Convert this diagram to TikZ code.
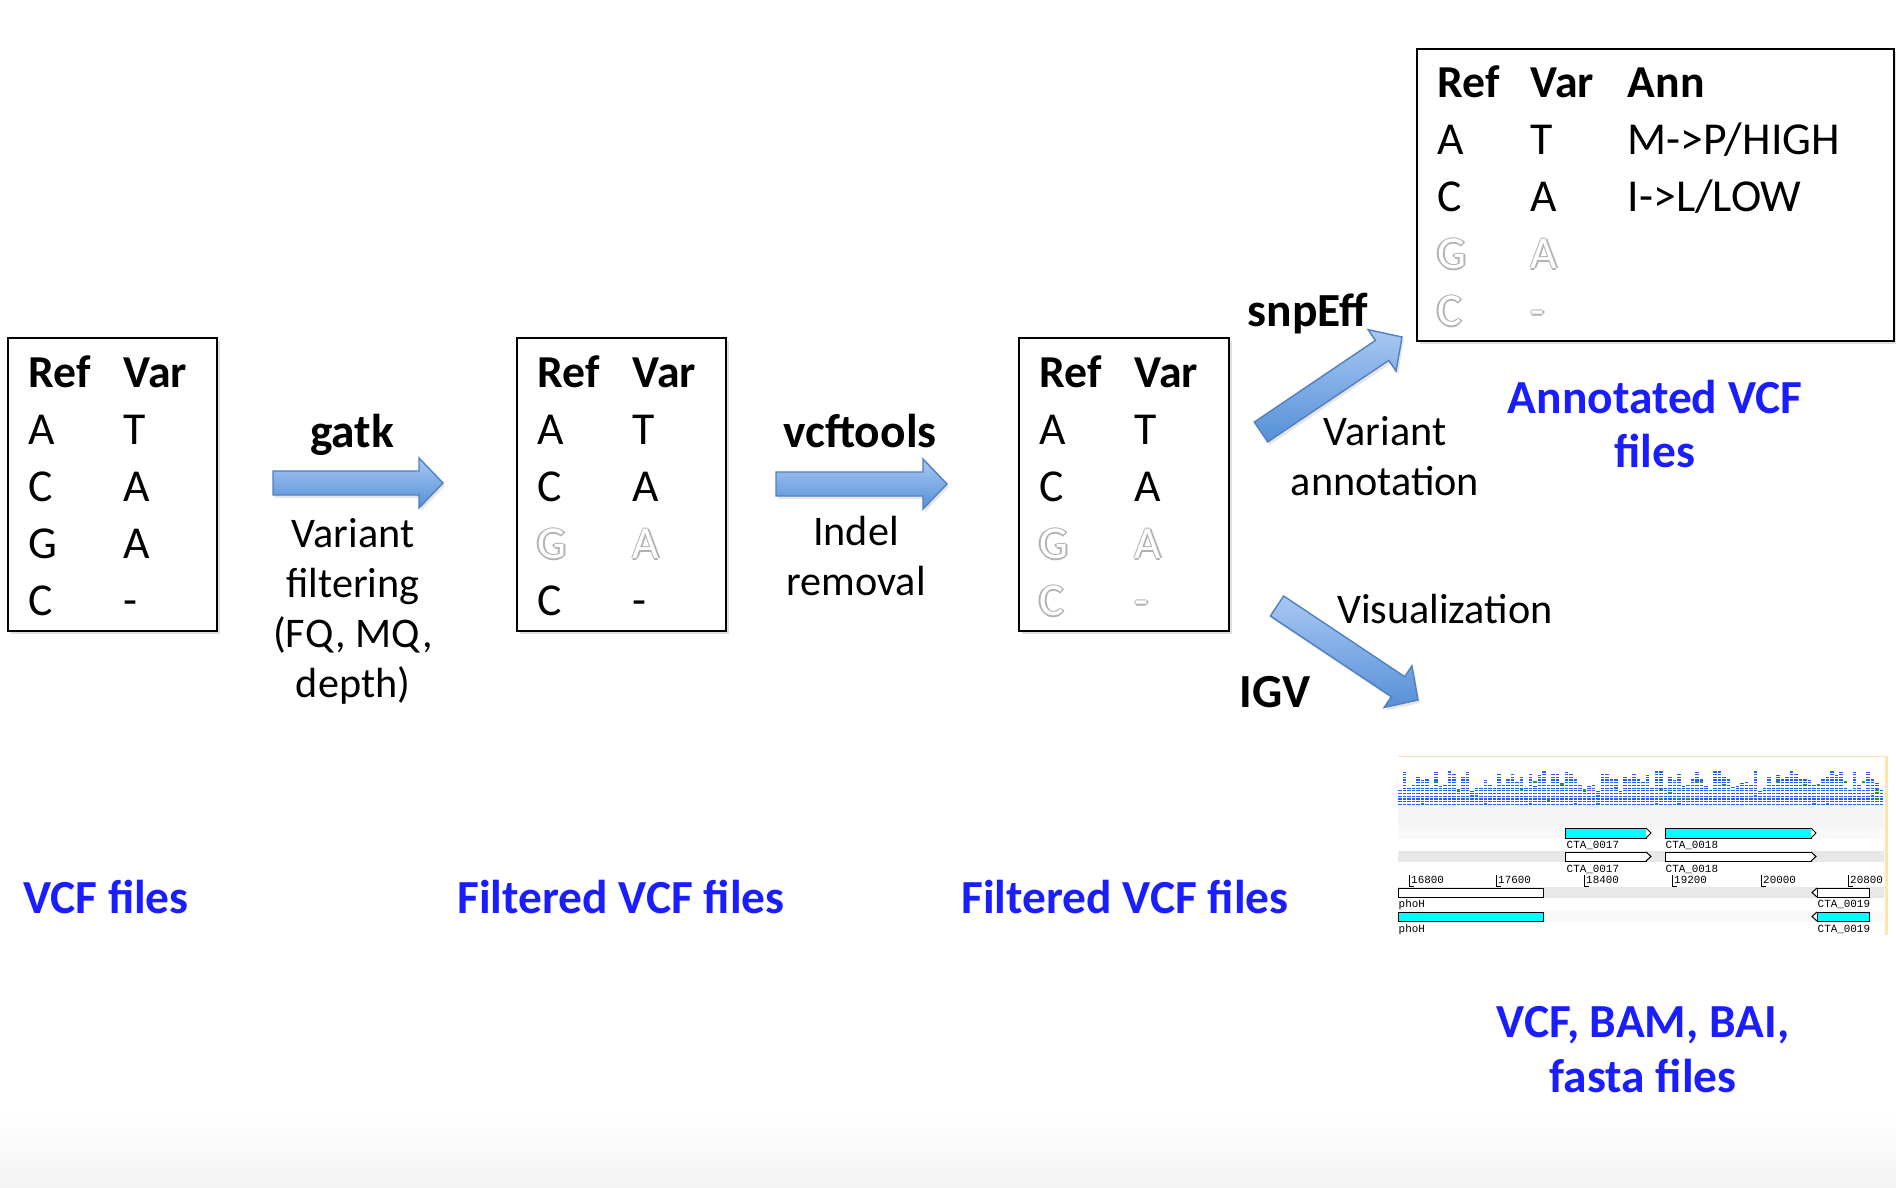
\documentclass[tikz,border=0pt]{standalone}
\usepackage{fontspec}
\setmainfont{Carlito}
\newfontfamily\igvfont{Liberation Mono}
\usetikzlibrary{calc,shadows}

\definecolor{fileblue}{RGB}{26,30,255}
\definecolor{arrowtop}{RGB}{168,200,242}
\definecolor{arrowbot}{RGB}{86,144,216}
\definecolor{arrowline}{RGB}{80,128,192}
\definecolor{genecyan}{RGB}{0,255,255}
\definecolor{igvblue}{RGB}{32,96,255}
\definecolor{igvgreen}{RGB}{40,160,40}
\definecolor{igvframe}{RGB}{255,226,178}

% greyed-out letter (outline only)
\newcommand\hollow[1]{\leavevmode\rlap{\color{gray!60}\rlap{\kern0.5pt#1}\rlap{\kern-0.5pt#1}\rlap{\raisebox{0.5pt}{#1}}\rlap{\raisebox{-0.5pt}{#1}}}{\color{white}#1}}

% fat block arrow from #1 to #2
\newcommand\blockarrow[2]{%
  \coordinate (#1h) at ($(#2)!0.24cm!(#1)$);
  \shade[fatarrow] ($(#1)!0.12cm!90:(#2)$) -- ($(#1h)!0.12cm!90:(#2)$) -- ($(#1h)!0.25cm!90:(#2)$) -- (#2)
    -- ($(#1h)!0.25cm!-90:(#2)$) -- ($(#1h)!0.12cm!-90:(#2)$) -- ($(#1)!0.12cm!-90:(#2)$) -- cycle;
}

\begin{document}
\begin{tikzpicture}[
        x=0.01cm, y=-0.01cm,
        vcfbox/.style={draw=black, line width=0.02cm, fill=white, anchor=north west, minimum width=2.09cm, minimum height=2.93cm, inner sep=0pt, drop shadow={shadow xshift=0.03cm, shadow yshift=-0.03cm, opacity=0.25}},
        tab/.style={anchor=base west, inner sep=0pt, font=\fontsize{13pt}{16.2pt}\selectfont},
        tool/.style={anchor=base, inner sep=0pt, font=\fontsize{13.5pt}{16pt}\selectfont\bfseries},
        stepnote/.style={anchor=base, inner sep=0pt, align=center, font=\fontsize{12pt}{14.2pt}\selectfont},
        filelabel/.style={anchor=base, inner sep=0pt, align=center, text=fileblue, font=\fontsize{13.5pt}{15.6pt}\selectfont\bfseries},
        fatarrow/.style={top color=arrowtop, bottom color=arrowbot, draw=arrowline, line width=0.4pt, drop shadow={shadow xshift=0.02cm, shadow yshift=-0.03cm, opacity=0.2}},
        igvtext/.style={anchor=base west, inner sep=0pt, font=\igvfont\fontsize{3.1pt}{4pt}\selectfont},
        gene/.style={draw=black, line width=0.01cm},
        cov/.style={igvblue, line width=0.035cm, dash pattern=on 0.012cm off 0.015cm}
    ]
        \useasboundingbox (0,0) rectangle (1896,1188);
        \shade[top color=white, bottom color=gray!9] (0,1110) rectangle (1896,1188);

        % the four tables
        \node (raw) [vcfbox] at (7,337) {};
        \node (rawtab) [tab] at (28,388) {\begin{tabular}[t]{@{}p{0.95cm}@{}l@{}}\bfseries Ref & \bfseries Var\\ A & T\\ C & A\\ G & A\\ C & -\end{tabular}};

        \node (filt) [vcfbox] at (516,337) {};
        \node (filttab) [tab] at (537,388) {\begin{tabular}[t]{@{}p{0.95cm}@{}l@{}}\bfseries Ref & \bfseries Var\\ A & T\\ C & A\\ \hollow{G} & \hollow{A}\\ C & -\end{tabular}};

        \node (snp) [vcfbox, minimum width=2.10cm] at (1018,337) {};
        \node (snptab) [tab] at (1039,388) {\begin{tabular}[t]{@{}p{0.95cm}@{}l@{}}\bfseries Ref & \bfseries Var\\ A & T\\ C & A\\ \hollow{G} & \hollow{A}\\ \hollow{C} & \hollow{-}\end{tabular}};

        \node (ann) [vcfbox, minimum width=4.77cm, minimum height=2.92cm] at (1416,48) {};
        \node (anntab) [tab] at (1437,98) {\begin{tabular}[t]{@{}p{0.93cm}@{}p{0.97cm}@{}l@{}}\bfseries Ref & \bfseries Var & \bfseries Ann\\ A & T & M->P/HIGH\\ C & A & I->L/LOW\\ \hollow{G} & \hollow{A} & \\ \hollow{C} & \hollow{-} & \end{tabular}};

        % arrows between steps
        \coordinate (gatkS) at (273,483);
        \coordinate (gatkE) at (443,483);
        \coordinate (vcftS) at (776,484);
        \coordinate (vcftE) at (947,484);
        \coordinate (snpS) at (1261,432);
        \coordinate (snpE) at (1402,337);
        \coordinate (igvS) at (1277,606);
        \coordinate (igvE) at (1418,700);
        \blockarrow{gatkS}{gatkE}
        \blockarrow{vcftS}{vcftE}
        \blockarrow{snpS}{snpE}
        \blockarrow{igvS}{igvE}

        \node (gatk) [tool] at (352,448) {gatk};
        \node (vcftools) [tool] at (860,447) {vcftools};
        \node (snpeff) [tool] at (1308,327) {snpEff};
        \node (igv) [tool] at (1275,707) {IGV};

        \node (filtnote) [stepnote] at (353,697) {Variant\\filtering\\(FQ, MQ,\\depth)};
        \node (indelnote) [stepnote] at (856,595) {Indel\\removal};
        \node (annnote) [stepnote] at (1385,495) {Variant\\annotation};
        \node (visnote) [stepnote] at (1445,623) {Visualization};

        \node (rawlbl) [filelabel] at (106,913) {VCF files};
        \node (filtlbl) [filelabel] at (621,913) {Filtered VCF files};
        \node (snplbl) [filelabel] at (1125,913) {Filtered VCF files};
        \node (annlbl) [filelabel] at (1655,468) {Annotated VCF\\files};
        \node (igvlbl) [filelabel] at (1643,1092) {VCF, BAM, BAI,\\fasta files};

        % IGV view
        \fill[gray!8] (1398,805) rectangle (1884,827);
        \fill[gray!5] (1398,827) rectangle (1884,839);
        \fill[gray!18] (1398,851) rectangle (1884,862);
        \fill[gray!18] (1398,887) rectangle (1884,898);
        \fill[gray!5] (1398,911) rectangle (1884,922);
        \draw[igvframe, line width=0.01cm] (1398,756) -- (1886,756);
        \draw[igvframe, line width=0.03cm] (1886,756) -- (1886,935);
        \pgfmathsetseed{17}
        \foreach \i in {0,...,107} {
            \pgfmathsetmacro\cx{1400+4.5*\i}
            \pgfmathsetmacro\ch{805-random(14,35)}
            \draw[cov] (\cx,805) -- (\cx,\ch);
        }
        \foreach \i in {1,...,45} {
            \pgfmathsetmacro\gx{1400+4.5*random(0,107)}
            \pgfmathsetmacro\gy{803.5-2.7*random(0,8)}
            \draw[igvgreen, line width=0.012cm] (\gx-1.7,\gy) -- (\gx+1.7,\gy);
        }

        \filldraw[gene, fill=genecyan] (1565,828) rectangle (1646,838);
        \filldraw[gene, fill=white] (1646,828) -- (1651,833) -- (1646,838);
        \filldraw[gene, fill=genecyan] (1665,828) rectangle (1811,838);
        \filldraw[gene, fill=white] (1811,828) -- (1816,833) -- (1811,838);
        \filldraw[gene, fill=white] (1565,852) rectangle (1646,861);
        \filldraw[gene, fill=white] (1646,852) -- (1651,856.5) -- (1646,861);
        \filldraw[gene, fill=white] (1665,852) rectangle (1811,861);
        \filldraw[gene, fill=white] (1811,852) -- (1816,856.5) -- (1811,861);
        \filldraw[gene, fill=white] (1398,888) rectangle (1543,897);
        \filldraw[gene, fill=white] (1817,888) rectangle (1869,897);
        \filldraw[gene, fill=white] (1817,888) -- (1812,892.5) -- (1817,897);
        \filldraw[gene, fill=genecyan] (1398,912) rectangle (1543,921);
        \filldraw[gene, fill=genecyan] (1817,912) rectangle (1869,921);
        \filldraw[gene, fill=white] (1817,912) -- (1812,916.5) -- (1817,921);

        \node (g17a) [igvtext] at (1566,848) {CTA\_0017};
        \node (g18a) [igvtext] at (1665,848) {CTA\_0018};
        \node (g17b) [igvtext] at (1566,872) {CTA\_0017};
        \node (g18b) [igvtext] at (1665,872) {CTA\_0018};
        \node (phoa) [igvtext] at (1398,907) {phoH};
        \node (g19a) [igvtext] at (1817,907) {CTA\_0019};
        \node (phob) [igvtext] at (1398,932) {phoH};
        \node (g19b) [igvtext] at (1817,932) {CTA\_0019};
        \foreach \p/\v in {1409/16800, 1496/17600, 1584/18400, 1672/19200, 1761/20000, 1848/20800} {
            \draw[line width=0.01cm] (\p,875) -- (\p,886) -- (\p+5,886);
            \node (r\v) [igvtext] at (\p+1.5,883) {\v};
        }
\end{tikzpicture}
\end{document}
